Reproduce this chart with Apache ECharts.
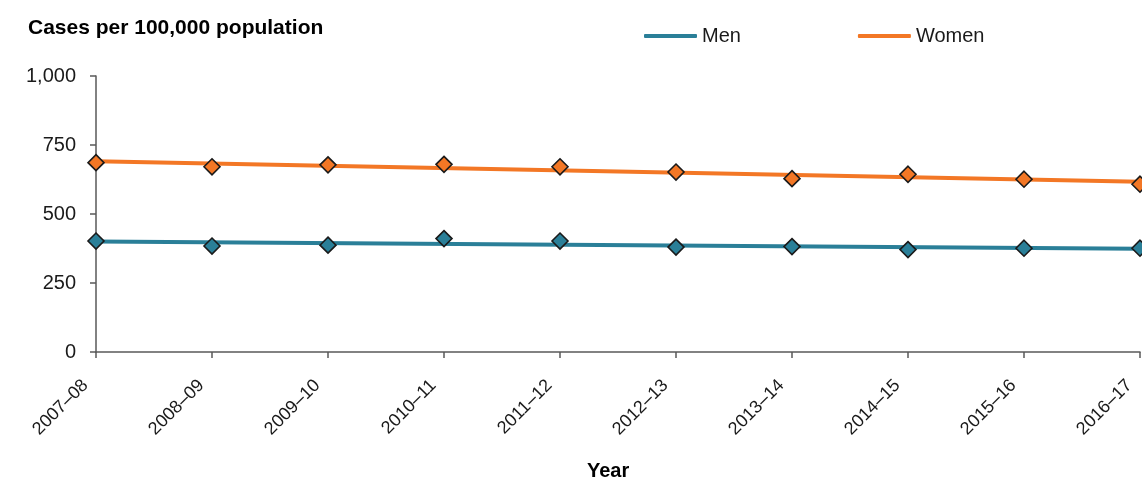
<!DOCTYPE html>
<html>
<head>
<meta charset="utf-8">
<script src="https://cdn.jsdelivr.net/npm/echarts@6/dist/echarts.min.js"></script>
<style>
html,body{margin:0;padding:0;background:#fff;}
#chart{width:1142px;height:482px;}
</style>
</head>
<body>
<div id="chart"></div>
<script>
// Data
const years = ['2007–08','2008–09','2009–10','2010–11','2011–12','2012–13','2013–14','2014–15','2015–16','2016–17'];
const menRates = [402, 384, 387, 411, 402, 380, 382, 371, 376, 376];
const womenRates = [686, 671, 678, 680, 671, 652, 628, 644, 626, 608];
// Trend line values at the first and last year
const menTrend = [400, 374];
const womenTrend = [691, 617];
const yTicks = [0, 250, 500, 750, 1000];

const MEN_COLOR = '#2a7f98';
const WOMEN_COLOR = '#f37725';
const FONT = 'Liberation Sans, Arial, sans-serif';

const chart = echarts.init(document.getElementById('chart'), null, {renderer: 'canvas'});

function trendData(t) {
  return [[years[0], t[0]], [years[years.length - 1], t[1]]];
}

chart.setOption({
  animation: false,
  textStyle: {fontFamily: FONT},
  title: {
    text: 'Cases per 100,000 population',
    left: 23, top: 13,
    textStyle: {fontFamily: FONT, fontSize: 21, fontWeight: 'bold', color: '#000'}
  },
  legend: {
    data: [
      {name: 'Men', icon: 'roundRect'},
      {name: 'Women', icon: 'roundRect'}
    ],
    left: 644, top: 26, padding: 0,
    itemWidth: 53, itemHeight: 4,
    itemGap: 117,
    textStyle: {fontFamily: FONT, fontSize: 20, color: '#1a1a1a'}
  },
  graphic: [{
    type: 'text', left: 587, top: 461,
    style: {text: 'Year', fontFamily: FONT, fontSize: 20, fontWeight: 'bold', fill: '#000'}
  }],
  grid: {left: 96, right: 2, top: 76, bottom: 130, containLabel: false, outerBoundsMode: 'none'},
  xAxis: {
    type: 'category',
    data: years,
    boundaryGap: false,
    axisLine: {lineStyle: {color: '#595959', width: 1.5}},
    axisTick: {show: true, length: 6, lineStyle: {color: '#595959', width: 1.5}},
    axisLabel: {rotate: 45, margin: 20, padding: [0, 15, 0, 0], fontSize: 18, color: '#1a1a1a', fontFamily: FONT, interval: 0},
    splitLine: {show: false}
  },
  yAxis: {
    type: 'value',
    min: yTicks[0], max: yTicks[yTicks.length - 1], interval: 250,
    axisLine: {show: true, lineStyle: {color: '#595959', width: 1.5}},
    axisTick: {show: true, length: 6, lineStyle: {color: '#595959', width: 1.5}},
    axisLabel: {
      margin: 20, fontSize: 20, color: '#1a1a1a', fontFamily: FONT,
      formatter: v => v.toLocaleString('en-US')
    },
    splitLine: {show: false}
  },
  series: [
    {
      name: 'Men', type: 'line', data: trendData(menTrend),
      symbol: 'none', lineStyle: {color: MEN_COLOR, width: 4}, itemStyle: {color: MEN_COLOR}, z: 2
    },
    {
      name: 'Women', type: 'line', data: trendData(womenTrend),
      symbol: 'none', lineStyle: {color: WOMEN_COLOR, width: 4}, itemStyle: {color: WOMEN_COLOR}, z: 2
    },
    {
      name: 'Men points', type: 'scatter', data: menRates,
      symbol: 'diamond', symbolSize: 16,
      itemStyle: {color: MEN_COLOR, borderColor: '#1a1a1a', borderWidth: 1.6, opacity: 1}, z: 3
    },
    {
      name: 'Women points', type: 'scatter', data: womenRates,
      symbol: 'diamond', symbolSize: 16,
      itemStyle: {color: WOMEN_COLOR, borderColor: '#1a1a1a', borderWidth: 1.6, opacity: 1}, z: 3
    }
  ]
});
</script>
</body>
</html>
